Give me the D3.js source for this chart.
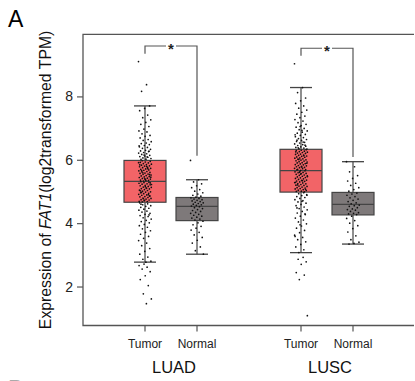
<!DOCTYPE html>
<html>
<head>
<meta charset="utf-8">
<script src="https://cdn.jsdelivr.net/npm/d3@7"></script>
<style>
  body { margin: 0; background: #fff; }
  svg { display: block; font-family: "Liberation Sans", Arial, sans-serif; }
</style>
</head>
<body>
<svg id="chart" width="415" height="381"></svg>
<script>
var cancers = ["LUAD", "LUSC"];
var conditions = ["Tumor", "Normal"];

// box stats, order: LUAD-Tumor, LUAD-Normal, LUSC-Tumor, LUSC-Normal
var boxQ1 = [4.66, 4.08, 4.98, 4.26];
var boxMedian = [5.32, 4.53, 5.66, 4.59];
var boxQ3 = [5.98, 4.81, 6.33, 4.97];
var whiskerLow = [2.77, 3.02, 3.07, 3.34];
var whiskerHigh = [7.70, 5.37, 8.28, 5.94];

var luadTumor = [
  9.10, 8.37, 8.16,
  7.70, 7.62, 7.55, 7.41, 7.33, 7.26, 7.18, 7.12, 7.05,
  6.97, 6.91, 6.88, 6.82, 6.77, 6.74, 6.69, 6.64, 6.61, 6.57, 6.53, 6.51,
  6.48, 6.45, 6.41, 6.39, 6.36, 6.33, 6.30, 6.28, 6.26, 6.23, 6.21, 6.19, 6.17, 6.14, 6.12, 6.10, 6.08, 6.06, 6.04, 6.02, 6.01, 6.27, 6.15, 6.44, 6.09,
  5.97, 5.95, 5.93, 5.92, 5.90, 5.88, 5.86, 5.85, 5.83, 5.81, 5.80, 5.78, 5.76, 5.75, 5.73, 5.71, 5.70, 5.68, 5.67, 5.65, 5.63, 5.62, 5.60, 5.58, 5.57,
  5.55, 5.54, 5.52, 5.50, 5.49, 5.47, 5.46, 5.44, 5.42, 5.41, 5.39, 5.38, 5.36, 5.35, 5.33, 5.91, 5.79, 5.66, 5.53, 5.40, 5.84, 5.72, 5.59, 5.45, 5.34,
  5.31, 5.29, 5.28, 5.26, 5.24, 5.23, 5.21, 5.19, 5.18, 5.16, 5.14, 5.13, 5.11, 5.09, 5.08, 5.06, 5.04, 5.03, 5.01, 4.99, 4.98, 4.96, 4.94, 4.93, 4.91,
  4.89, 4.88, 4.86, 4.84, 4.83, 4.81, 4.79, 4.78, 4.76, 4.74, 4.73, 4.71, 4.69, 4.68, 4.67, 5.27, 5.15, 5.02, 4.90, 4.77, 5.22, 5.10, 4.97, 4.85, 4.72,
  4.64, 4.61, 4.58, 4.55, 4.53, 4.50, 4.47, 4.44, 4.41, 4.38, 4.35, 4.31, 4.28, 4.24, 4.21, 4.17, 4.13, 4.09, 4.05, 4.01, 3.96, 3.92, 3.87, 3.82, 3.76,
  3.71, 3.65, 3.58, 3.52, 3.45, 3.37, 3.29, 3.20, 3.11, 3.02, 2.93, 2.86, 2.80, 2.77, 4.60, 4.26,
  2.71, 2.66, 2.61, 2.55, 2.47, 2.34, 2.22, 2.03, 1.77, 1.61, 1.46
];
var luadNormal = [
  5.98, 5.37, 5.30, 5.24, 5.18, 5.12, 5.06, 5.01, 4.96, 4.92, 4.88, 4.85, 4.82,
  4.80, 4.78, 4.76, 4.74, 4.72, 4.70, 4.68, 4.66, 4.64, 4.62, 4.60, 4.58, 4.56, 4.54,
  4.52, 4.49, 4.46, 4.43, 4.40, 4.37, 4.34, 4.31, 4.28, 4.25, 4.22, 4.19, 4.16, 4.13, 4.10,
  4.06, 4.01, 3.95, 3.90, 3.84, 3.78, 3.71, 3.63, 3.55, 3.46, 3.37, 3.25, 3.13, 3.02
];
var luscTumor = [
  9.03,
  8.28, 8.12, 7.95, 7.86, 7.78, 7.70, 7.63, 7.57, 7.50, 7.44, 7.38, 7.33, 7.27, 7.22, 7.17, 7.12, 7.08, 7.03, 6.99, 6.95, 6.91, 6.87, 6.84, 6.80, 6.77,
  6.73, 6.70, 6.67, 6.64, 6.61, 6.58, 6.55, 6.53, 6.50, 6.48, 6.45, 6.43, 6.41, 6.39, 6.37, 6.35, 6.34, 6.93, 6.62, 6.46, 7.05, 6.79, 6.56, 6.38,
  6.32, 6.30, 6.29, 6.27, 6.26, 6.24, 6.23, 6.21, 6.20, 6.18, 6.17, 6.15, 6.14, 6.12, 6.11, 6.09, 6.08, 6.06, 6.05, 6.03, 6.02, 6.00, 5.99, 5.97, 5.96,
  5.94, 5.93, 5.91, 5.90, 5.88, 5.87, 5.85, 5.84, 5.82, 5.81, 5.79, 5.78, 5.76, 5.75, 5.73, 5.72, 5.70, 5.69, 5.67, 6.25, 6.13, 6.01, 5.89, 5.77, 5.68,
  5.65, 5.63, 5.62, 5.60, 5.59, 5.57, 5.56, 5.54, 5.52, 5.51, 5.49, 5.48, 5.46, 5.44, 5.43, 5.41, 5.40, 5.38, 5.36, 5.35, 5.33, 5.32, 5.30, 5.28, 5.27,
  5.25, 5.24, 5.22, 5.20, 5.19, 5.17, 5.16, 5.14, 5.12, 5.11, 5.09, 5.08, 5.06, 5.04, 5.03, 5.01, 5.00, 4.99, 5.61, 5.47, 5.34, 5.21, 5.07, 5.55, 5.29,
  4.96, 4.93, 4.90, 4.87, 4.84, 4.81, 4.78, 4.74, 4.71, 4.67, 4.63, 4.59, 4.55, 4.51, 4.46, 4.42, 4.37, 4.32, 4.27, 4.22, 4.16, 4.10, 4.04, 3.98, 3.91,
  3.84, 3.77, 3.70, 3.62, 3.55, 3.48, 3.41, 3.33, 3.25, 3.16, 3.07, 4.88, 4.69, 4.48, 4.29, 3.95, 3.58,
  2.92, 2.86, 2.78, 2.70, 2.44, 2.36, 2.22, 1.08
];
var luscNormal = [
  5.94, 5.78, 5.62, 5.50, 5.41, 5.33, 5.26, 5.19, 5.12, 5.06, 5.01,
  4.95, 4.92, 4.88, 4.84, 4.80, 4.76, 4.72, 4.68, 4.64, 4.61,
  4.57, 4.55, 4.53, 4.49, 4.45, 4.43, 4.41, 4.37, 4.33, 4.31, 4.29, 4.27,
  4.22, 4.15, 4.08, 4.00, 3.92, 3.83, 3.72, 3.60, 3.48, 3.40, 3.36, 3.34
];

var yTicks = [2, 4, 6, 8];
var sigLabels = ["*", "*"];

var groups = [
  { cancer: "LUAD", cond: "Tumor", values: luadTumor },
  { cancer: "LUAD", cond: "Normal", values: luadNormal },
  { cancer: "LUSC", cond: "Tumor", values: luscTumor },
  { cancer: "LUSC", cond: "Normal", values: luscNormal }
];
groups.forEach(function(g, i) {
  g.q1 = boxQ1[i]; g.median = boxMedian[i]; g.q3 = boxQ3[i];
  g.lo = whiskerLow[i]; g.hi = whiskerHigh[i];
});

var svg = d3.select("#chart"),
  plotLeft = 83, plotTop = 34.3, plotRight = 414, plotBottom = 325.5,
  boxWidth = 42, capWidth = 22, jitter = 6.5,
  lineColor = "#555";

var x0 = d3.scaleBand().domain(cancers).range([93, 405]);
var x1 = d3.scalePoint().domain(conditions).range([0, x0.bandwidth()]).padding(1);
var xPos = function(g) { return x0(g.cancer) + x1(g.cond); };

var y = d3.scaleLinear()
  .domain([0.77, 9.96])
  .range([plotBottom, plotTop]);

var fills = { Tumor: "#f26467", Normal: "#7e797a" };

// panel letter
svg.append("text")
  .attr("x", 8).attr("y", 27)
  .attr("font-size", 23)
  .text("A");
svg.append("text")
  .attr("x", 8).attr("y", 396.5)
  .attr("font-size", 23)
  .attr("fill", "#aaa")
  .text("B");

// frame (left, top, bottom; right side is cut off)
svg.append("path")
  .attr("fill", "none")
  .attr("stroke", lineColor)
  .attr("stroke-width", 1.3)
  .attr("d", "M" + plotRight + "," + plotTop + "H" + plotLeft + "V" + plotBottom + "H" + plotRight);

// y axis
var yAxis = svg.append("g")
  .attr("transform", "translate(" + plotLeft + ",0)")
  .call(d3.axisLeft(y).tickValues(yTicks).tickSize(6).tickPadding(4));
yAxis.select(".domain").remove();
yAxis.selectAll(".tick line").attr("stroke", lineColor).attr("stroke-width", 1.2);
yAxis.selectAll(".tick text")
  .attr("font-size", 14)
  .attr("font-family", "Liberation Sans, Arial, sans-serif")
  .attr("fill", "#222");

var yLabel = svg.append("text")
  .attr("transform", "translate(51," + ((plotTop + plotBottom) / 2) + ") rotate(-90)")
  .attr("text-anchor", "middle")
  .attr("font-size", 15.8)
  .attr("fill", "#111");
yLabel.append("tspan").text("Expression of ");
yLabel.append("tspan").attr("font-style", "italic").text("FAT1");
yLabel.append("tspan").text("(log2transformed TPM)");

// x ticks and labels
var xg = svg.append("g");
xg.selectAll("line.xtick")
  .data(groups)
  .join("line")
  .attr("class", "xtick")
  .attr("x1", xPos).attr("x2", xPos)
  .attr("y1", plotBottom).attr("y2", plotBottom + 6)
  .attr("stroke", lineColor)
  .attr("stroke-width", 1.2);
xg.selectAll("text.cond")
  .data(groups)
  .join("text")
  .attr("class", "cond")
  .attr("x", xPos)
  .attr("y", 348)
  .attr("text-anchor", "middle")
  .attr("font-size", 12)
  .attr("fill", "#222")
  .text(function(d) { return d.cond; });
xg.selectAll("text.cancer")
  .data(cancers)
  .join("text")
  .attr("class", "cancer")
  .attr("x", function(d) { return x0(d) + x0.bandwidth() / 2 + 3; })
  .attr("y", 373)
  .attr("text-anchor", "middle")
  .attr("font-size", 16.5)
  .attr("fill", "#111")
  .text(function(d) { return d; });

// boxes
var boxes = svg.append("g").selectAll("g")
  .data(groups)
  .join("g");

boxes.append("line")
  .attr("x1", xPos).attr("x2", xPos)
  .attr("y1", function(d) { return y(d.hi); })
  .attr("y2", function(d) { return y(d.q3); })
  .attr("stroke", "#444").attr("stroke-width", 1.2);
boxes.append("line")
  .attr("x1", xPos).attr("x2", xPos)
  .attr("y1", function(d) { return y(d.q1); })
  .attr("y2", function(d) { return y(d.lo); })
  .attr("stroke", "#444").attr("stroke-width", 1.2);
["hi", "lo"].forEach(function(k) {
  boxes.append("line")
    .attr("x1", function(d) { return xPos(d) - capWidth / 2; })
    .attr("x2", function(d) { return xPos(d) + capWidth / 2; })
    .attr("y1", function(d) { return y(d[k]); })
    .attr("y2", function(d) { return y(d[k]); })
    .attr("stroke", "#444").attr("stroke-width", 1.3);
});
boxes.append("rect")
  .attr("x", function(d) { return xPos(d) - boxWidth / 2; })
  .attr("width", boxWidth)
  .attr("y", function(d) { return y(d.q3); })
  .attr("height", function(d) { return y(d.q1) - y(d.q3); })
  .attr("fill", function(d) { return fills[d.cond]; })
  .attr("stroke", "#444")
  .attr("stroke-width", 1.2);
boxes.append("line")
  .attr("x1", function(d) { return xPos(d) - boxWidth / 2; })
  .attr("x2", function(d) { return xPos(d) + boxWidth / 2; })
  .attr("y1", function(d) { return y(d.median); })
  .attr("y2", function(d) { return y(d.median); })
  .attr("stroke", "#444").attr("stroke-width", 1.2);

// jittered points (deterministic spread by index)
boxes.each(function(g) {
  d3.select(this).selectAll("circle")
    .data(g.values)
    .join("circle")
    .attr("cx", function(v, i) { return xPos(g) + (((i * 0.6180339887) % 1) - 0.5) * 2 * jitter; })
    .attr("cy", function(v) { return y(v); })
    .attr("r", 0.85)
    .attr("fill", "#111");
});

// significance brackets
cancers.forEach(function(c, i) {
  var t = groups[i * 2], n = groups[i * 2 + 1];
  var xl = xPos(t), xr = xPos(n);
  var legL = y(d3.max(t.values) + 0.25);
  var legR = y(d3.max(n.values) + 0.15);
  var yTop = y(d3.max(t.values) + 0.49);
  var xm = (xl + xr) / 2;
  svg.append("path")
    .attr("fill", "none")
    .attr("stroke", lineColor)
    .attr("stroke-width", 1.2)
    .attr("d", "M" + xl + "," + legL + "V" + yTop + "H" + (xm - 5) +
      "M" + (xm + 5) + "," + yTop + "H" + xr + "V" + legR);
  svg.append("text")
    .attr("x", xm)
    .attr("y", yTop + 8)
    .attr("text-anchor", "middle")
    .attr("font-size", 15)
    .attr("font-weight", "bold")
    .attr("fill", "#222")
    .text(sigLabels[i]);
});
</script>
</body>
</html>
